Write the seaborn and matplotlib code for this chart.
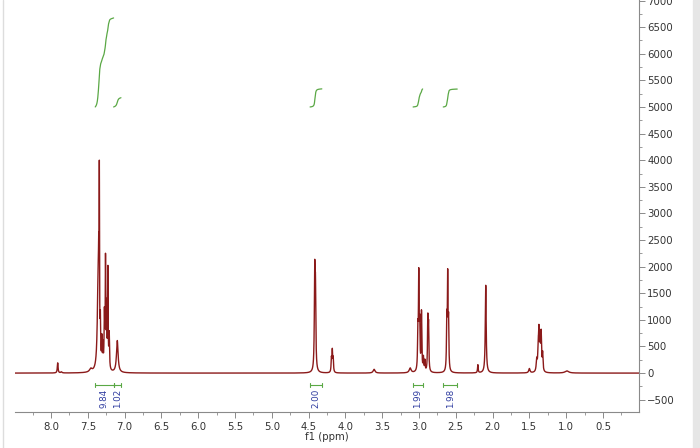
import numpy as np
import matplotlib
matplotlib.use("Agg")
import matplotlib.pyplot as plt
from matplotlib.ticker import MultipleLocator, FormatStrFormatter
import seaborn as sns

# ---- peak list: ppm, height, half width (ppm)
peak_ppm = [7.91, 7.86, 7.46, 7.36, 7.352, 7.344, 7.33, 7.31, 7.295, 7.275, 7.26, 7.245, 7.228, 7.21, 7.10,
            4.417, 4.407, 4.19, 4.178, 4.166, 3.61, 3.12,
            3.015, 3.003, 2.99, 2.966, 2.94, 2.92, 2.88, 2.87,
            2.622, 2.61, 2.598, 2.20, 2.093, 1.50,
            1.40, 1.38, 1.37, 1.355, 1.34, 1.32, 0.99]
peak_height = [190, 20, 60, 1700, 1000, 3050, 700, 500, 400, 1000, 2000, 1100, 1850, 650, 600,
               1750, 1400, 250, 390, 250, 70, 90,
               700, 1750, 800, 1100, 250, 200, 950, 800,
               900, 1700, 850, 150, 1650, 80,
               220, 420, 680, 560, 680, 330, 40]
peak_width = [0.006, 0.01, 0.02, 0.013, 0.004, 0.003, 0.004, 0.004, 0.004, 0.005, 0.004, 0.004, 0.004, 0.005, 0.013,
              0.006, 0.006, 0.005, 0.005, 0.005, 0.015, 0.015,
              0.005, 0.005, 0.005, 0.005, 0.005, 0.005, 0.005, 0.005,
              0.005, 0.005, 0.005, 0.005, 0.007, 0.01,
              0.008, 0.006, 0.006, 0.006, 0.006, 0.006, 0.03]

# ---- integration regions (ppm) and values
integ_from = [7.40, 7.15, 4.48, 3.08, 2.67]
integ_to = [7.15, 7.05, 4.32, 2.95, 2.48]
integ_value = [9.84, 1.02, 2.00, 1.99, 1.98]

# ---- build the spectrum from the peak list (lorentzian lines)
ppm = np.linspace(8.5, 0.0, 20000)
intensity = np.zeros_like(ppm)
for p, h, w in zip(peak_ppm, peak_height, peak_width):
    intensity += h / (1 + ((ppm - p) / w) ** 2)

sns.set_style("white")
plt.rcParams['font.family'] = ['DejaVu Sans']

fig = plt.figure(figsize=(7, 4.48), dpi=100)
ax = fig.add_axes([15 / 700, 36 / 448, 624 / 700, 412 / 448])

red = "#8b1a1a"
green = "#5aa845"
blue = "#2f3ca0"

sns.lineplot(x=ppm, y=intensity, ax=ax, color=red, lw=1.0, estimator=None, sort=False)

# integral curves and brackets
base = 5000
scale = 170
for a, b, v in zip(integ_from, integ_to, integ_value):
    m = (ppm <= a) & (ppm >= b)
    seg = intensity[m]
    cum = np.cumsum(seg)
    cum = cum / cum[-1] * v * scale
    sns.lineplot(x=ppm[m], y=base + cum, ax=ax, color=green, lw=0.9, estimator=None, sort=False)
    ax.plot([a, b], [-225, -225], color=green, lw=0.8)
    for e in (a, b):
        ax.plot([e, e], [-185, -265], color=green, lw=0.8)
    ax.text((a + b) / 2, -470, f"{v:.2f}", rotation=90, ha="center", va="center",
            fontsize=6.3, color=blue)

ax.set_xlim(8.49, 0.01)
ax.set_ylim(-731, 7010)

ax.xaxis.set_major_locator(MultipleLocator(0.5))
ax.xaxis.set_minor_locator(MultipleLocator(0.25))
ax.xaxis.set_major_formatter(FormatStrFormatter("%.1f"))
ax.yaxis.set_major_locator(MultipleLocator(500))
ax.yaxis.set_minor_locator(MultipleLocator(250))
ax.yaxis.tick_right()

for s in ("left", "top"):
    ax.spines[s].set_visible(False)
for s in ("bottom", "right"):
    ax.spines[s].set_color("#8a8a8a")
    ax.spines[s].set_linewidth(0.8)

ax.tick_params(axis="both", which="major", direction="out", length=4, width=0.7,
               color="#8a8a8a", labelsize=7.3, labelcolor="#333333", pad=2)
ax.tick_params(axis="both", which="minor", direction="out", length=2.5, width=0.6, color="#8a8a8a")
ax.tick_params(axis="x", which="major", pad=3)
ax.tick_params(axis="y", which="both", left=False, right=True)
ax.tick_params(axis="x", which="both", bottom=True, top=False)
ax.set_xlabel("f1 (ppm)", fontsize=7.3, color="#333333", labelpad=0)
ax.set_ylabel("")

# screenshot frame edges
fig.patches.append(plt.Rectangle((693 / 700, 0), 7 / 700, 1, transform=fig.transFigure,
                                 color="#e6e6e6", zorder=0))
fig.lines.append(plt.Line2D([3 / 700, 3 / 700], [0, 1], transform=fig.transFigure,
                            color="#dddddd", lw=1))

fig.savefig("out.png", dpi=100)
